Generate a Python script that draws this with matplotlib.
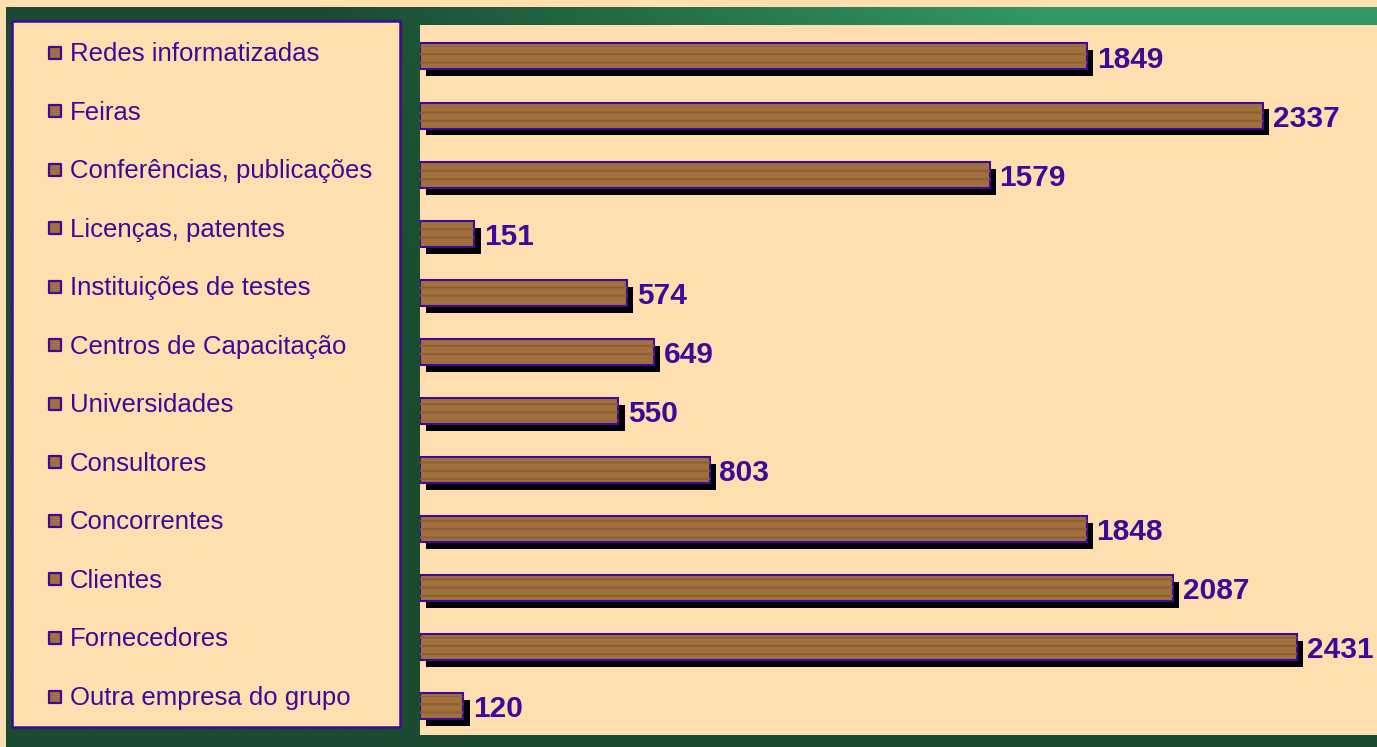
import numpy as np
import matplotlib.pyplot as plt
import matplotlib.transforms as mtransforms
from matplotlib.patches import Rectangle

plt.rcParams['font.family'] = ['Liberation Sans', 'DejaVu Sans']
plt.rcParams['hatch.linewidth'] = 1.5

# data (top to bottom)
categories = ['Redes informatizadas', 'Feiras', 'Conferências, publicações',
              'Licenças, patentes', 'Instituições de testes', 'Centros de Capacitação',
              'Universidades', 'Consultores', 'Concorrentes', 'Clientes',
              'Fornecedores', 'Outra empresa do grupo']
values = [1849, 2337, 1579, 151, 574, 649, 550, 803, 1848, 2087, 2431, 120]

W, H = 1377, 747
beige = '#FFDFB0'
purple = '#3C0A9A'
wood = '#A0703E'
wood_dark = '#8E5F33'

fig = plt.figure(figsize=(W / 100, H / 100), dpi=100, facecolor=beige)

# green frame with gradient (pixel coordinates)
bg = fig.add_axes([0, 0, 1, 1], zorder=0)
bg.set_xlim(0, W)
bg.set_ylim(H, 0)
bg.axis('off')
gx, gy = np.meshgrid(np.linspace(6, W, 300), np.linspace(7, H, 150))
t = np.clip((gx - 318) / 730, 0, 1) * np.clip(1 - (gy - 7) / 500, 0, 1) ** 1.5
dark = np.array([0x1B, 0x4A, 0x31]) / 255
light = np.array([0x33, 0x99, 0x66]) / 255
img = dark + t[..., None] * (light - dark)
bg.imshow(img, extent=[6, W, H, 7], aspect='auto', interpolation='bilinear')

# legend panel
bg.add_patch(Rectangle((12, 21), 388, 706, facecolor=beige, edgecolor=purple, lw=1.8))
leg = fig.add_axes([0, 0, 1, 1], zorder=2)
leg.set_xlim(0, W)
leg.set_ylim(H, 0)
leg.axis('off')
rows = 52.5 + np.arange(len(categories)) * 58.55
leg.scatter(np.full(len(rows), 55), rows, marker='s', s=85, facecolor=wood,
            edgecolor=purple, linewidths=1.6)
for r, c in zip(rows, categories):
    leg.text(70, r + 8.5, c, fontsize=18.5, color=purple, va='baseline', ha='left')

# bar plot area
ax = fig.add_axes([420 / W, 12 / H, (W - 420) / W, 710 / H], zorder=1)
ax.set_facecolor(beige)
for s in ax.spines.values():
    s.set_visible(False)
ax.set_xticks([])
ax.set_yticks([])
y = np.arange(len(values))
shadow = mtransforms.offset_copy(ax.transData, fig=fig, x=4.5, y=-5, units='points')
ax.barh(y, values, height=0.44, left=0, color='black', transform=shadow, zorder=1)
ax.barh(y, values, height=0.44, color=wood, edgecolor=purple, linewidth=1.5, zorder=2)
ax.barh(y, values, height=0.34, color='none', edgecolor=wood_dark, hatch='--',
        linewidth=0, zorder=3)
for yi, v in zip(y, values):
    ax.annotate(str(v), (v, yi), xytext=(7, -8), textcoords='offset points',
                fontsize=21.5, fontweight='bold', color=purple, va='baseline', ha='left',
                zorder=4)
ax.set_xlim(0, 2653)
ax.set_ylim(11.49, -0.533)

fig.savefig('out.png', dpi=100, facecolor=beige)
